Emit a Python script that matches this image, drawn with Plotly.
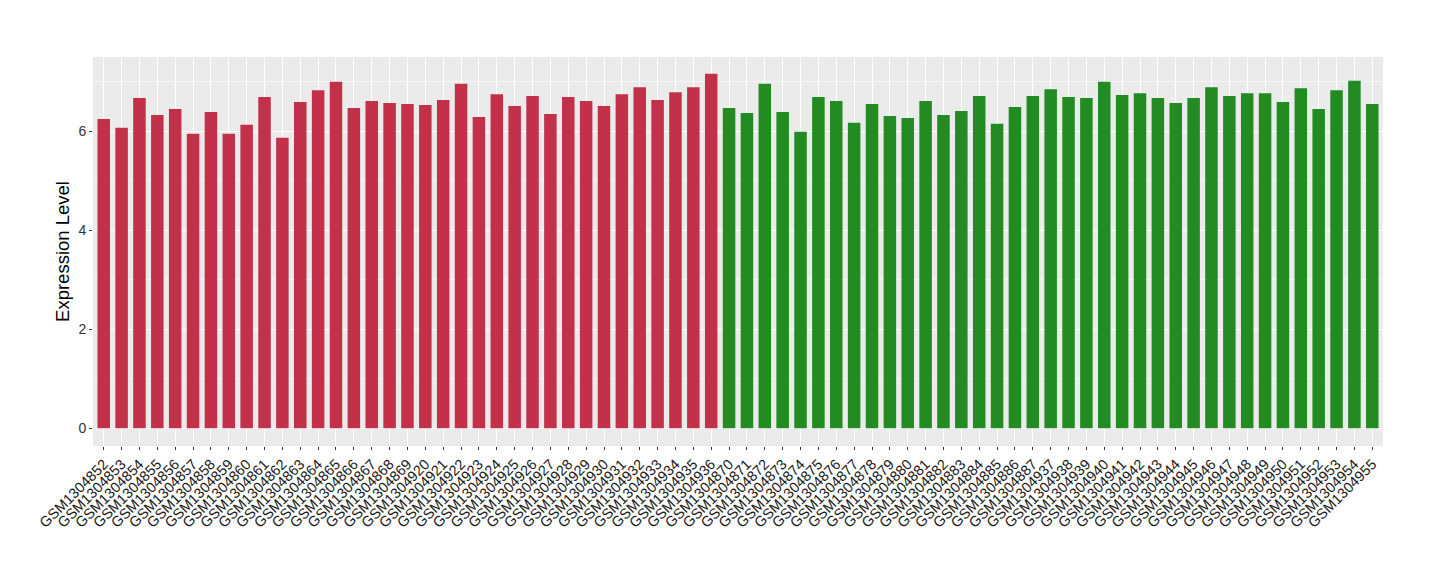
import plotly.graph_objects as go

# sample ids in plotted order
samples = (
    [f"GSM{n}" for n in range(1304852, 1304870)]
    + [f"GSM{n}" for n in range(1304920, 1304937)]
    + [f"GSM{n}" for n in range(1304870, 1304888)]
    + [f"GSM{n}" for n in range(1304937, 1304956)]
)

expression = [
    6.25, 6.07, 6.67, 6.33, 6.45, 5.95, 6.39, 5.95, 6.13, 6.69,
    5.87, 6.59, 6.83, 7.00, 6.47, 6.61, 6.57, 6.55, 6.53, 6.63,
    6.96, 6.29, 6.75, 6.51, 6.71, 6.35, 6.69, 6.61, 6.51, 6.75,
    6.89, 6.63, 6.79, 6.89, 7.16,
    6.47, 6.37, 6.96, 6.39, 5.99, 6.69, 6.61, 6.17, 6.55, 6.31,
    6.27, 6.61, 6.33, 6.41, 6.71, 6.15, 6.49, 6.71, 6.85, 6.69,
    6.67, 7.00, 6.73, 6.77, 6.67, 6.57, 6.67, 6.89, 6.71, 6.77,
    6.77, 6.59, 6.87, 6.45, 6.83, 7.02, 6.55,
]

groups = ["A"] * 35 + ["B"] * 37
group_colors = {"A": "#C3304A", "B": "#228B22"}

fig = go.Figure()
fig.add_trace(
    go.Bar(
        x=samples,
        y=expression,
        marker=dict(color=[group_colors[g] for g in groups], line=dict(width=0)),
        width=0.7,
        showlegend=False,
        hovertemplate="%{x}: %{y:.2f}<extra></extra>",
    )
)

# page body has an 8px margin, so the figure sits at (8, 8)
fig.update_layout(
    width=1440,
    height=580,
    paper_bgcolor="white",
    plot_bgcolor="#EBEBEB",
    font=dict(family="Liberation Sans, Arial, sans-serif", color="#4D4D4D", size=14),
    margin=dict(l=85, r=65, t=49, b=142),
    xaxis=dict(
        type="category",
        range=[-0.6, 71.6],
        tickangle=-45,
        ticks="outside",
        ticklen=3,
        tickcolor="#333333",
        tickfont=dict(size=14.5, color="#1a1a1a"),
        showgrid=True,
        gridcolor="white",
        gridwidth=1.1,
        zeroline=False,
        showline=False,
    ),
    yaxis=dict(
        range=[-0.358, 7.5],
        tickvals=[0, 2, 4, 6],
        ticks="outside",
        ticklen=3,
        tickcolor="#333333",
        tickfont=dict(size=14, color="#333333"),
        showgrid=True,
        gridcolor="white",
        gridwidth=1.1,
        minor=dict(tickvals=[1, 3, 5, 7], showgrid=True, gridcolor="#F5F5F5", gridwidth=0.6, ticks=""),
        zeroline=False,
        showline=False,
        title=dict(text="Expression Level", font=dict(size=18.5, color="black"), standoff=3),
    ),
)

fig.write_html("out.html")
